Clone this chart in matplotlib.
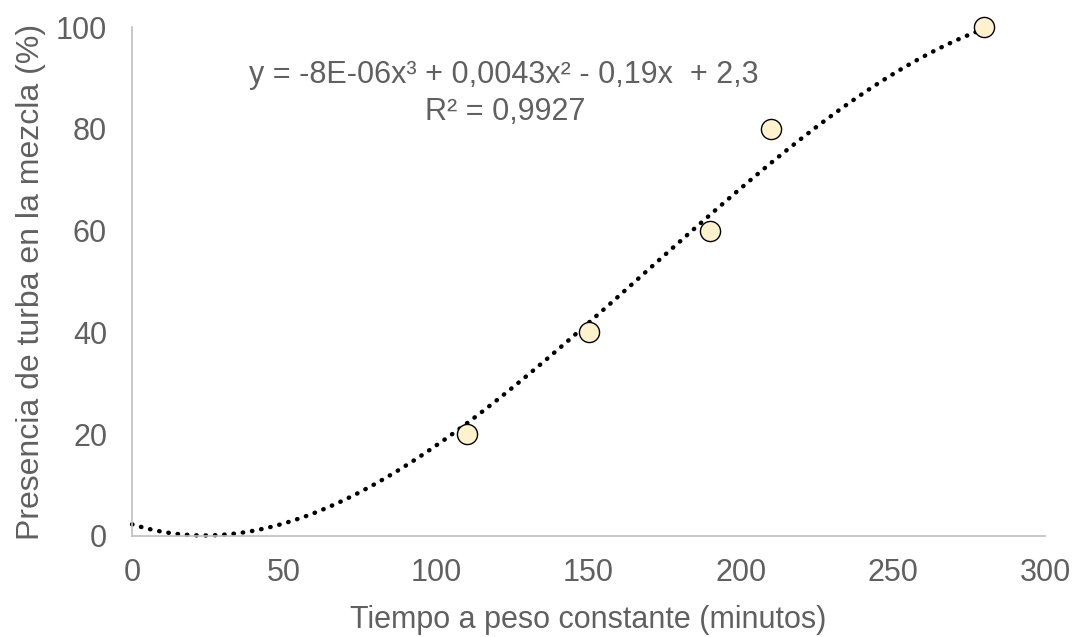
import numpy as np
import matplotlib
matplotlib.use('Agg')
import matplotlib.pyplot as plt

plt.rcParams['font.family'] = ['Liberation Sans', 'DejaVu Sans']

# data
tiempo = [110, 150, 190, 210, 280]
turba = [20, 40, 60, 80, 100]
# cubic trendline coefficients (x^3, x^2, x, 1) as shown on the chart
tendencia = [-8.5e-06, 0.0043, -0.19, 2.3]
xticks = [0, 50, 100, 150, 200, 250, 300]
yticks = [0, 20, 40, 60, 80, 100]
ecuacion = 'y = -8E-06x³ + 0,0043x² - 0,19x  + 2,3'
r2_texto = 'R² = 0,9927'

gris = '#606060'

fig = plt.figure(figsize=(10.76, 6.37), dpi=100)
ax = fig.add_axes([0.1227, 0.1586, 0.8485, 0.799])

xs = np.linspace(0, max(tiempo), 400)
ax.plot(xs, np.polyval(tendencia, xs), color='black', lw=3.2,
        linestyle=(0, (0.1, 2.0)), dash_capstyle='round', zorder=2, clip_on=False)

ax.plot(tiempo, turba, 'o', ms=14.5, mfc='#FFF2CC', mec='black', mew=1.0,
        zorder=3, clip_on=False)

ax.set_xlim(0, 300)
ax.set_ylim(0, 100)
ax.set_xticks(xticks)
ax.set_yticks(yticks)
ax.tick_params(length=0, labelsize=22, colors=gris)
ax.tick_params(axis='x', pad=16)
ax.tick_params(axis='y', pad=18)
for s in ['top', 'right']:
    ax.spines[s].set_visible(False)
for s in ['left', 'bottom']:
    ax.spines[s].set_color('#BFBFBF')
    ax.spines[s].set_linewidth(1.2)

ax.set_xlabel('Tiempo a peso constante (minutos)', fontsize=22, color=gris, labelpad=12)
ax.set_ylabel('Presencia de turba en la mezcla (%)', fontsize=23, color=gris, labelpad=7)

fig.text(504 / 1076, 1 - 75 / 637, ecuacion, fontsize=22, color=gris,
         ha='center', va='center')
fig.text(505 / 1076, 1 - 112 / 637, r2_texto, fontsize=22, color=gris,
         ha='center', va='center')

fig.savefig('out.png', dpi=100)
